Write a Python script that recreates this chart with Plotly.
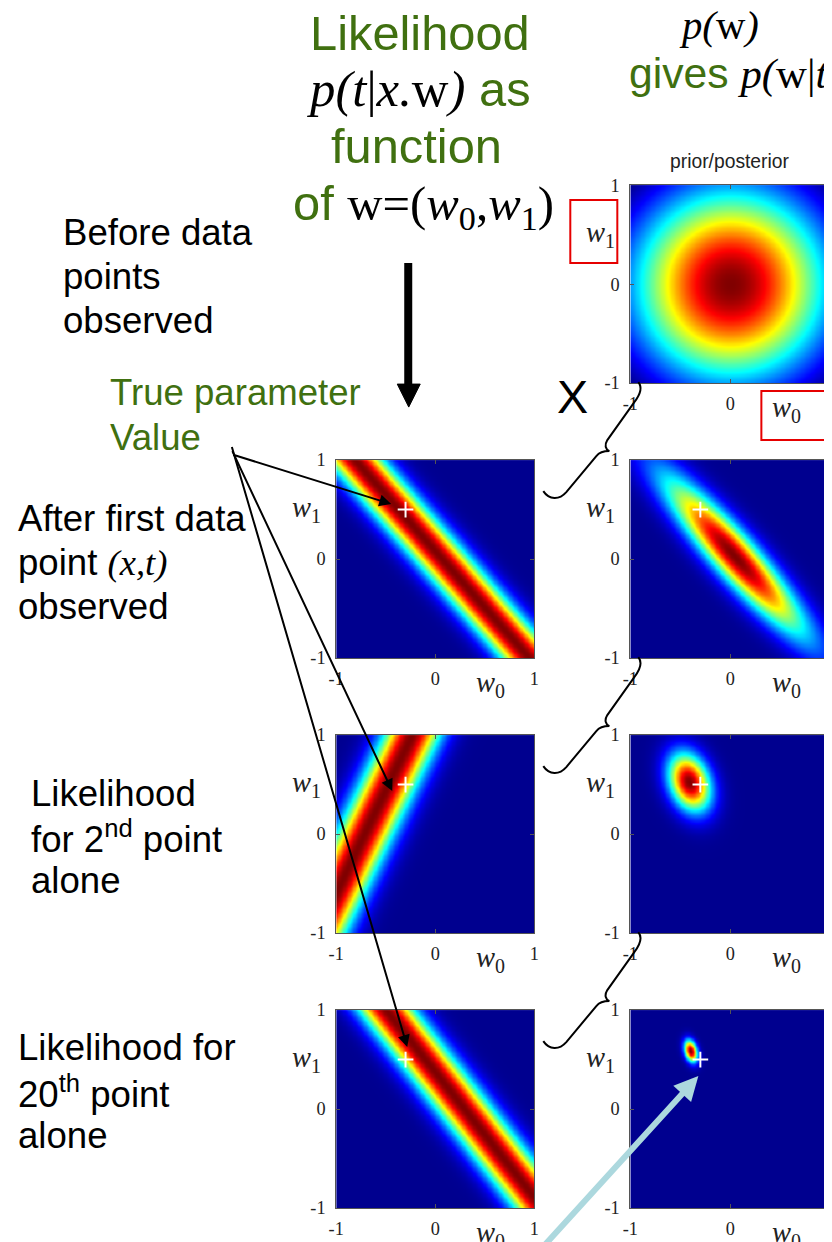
import numpy as np
import plotly.graph_objects as go

# Picture coordinates P (reference pixels) map to figure pixels through the
# page margin and the capture scale observed in earlier runs: P = K*fig + B.
K, B = 0.984, 14.9
W, H = 831, 1248

# ---- values ----
true_w = [-0.3, 0.5]            # true parameter (w0, w1), white "+"
prior_alpha = 2.0               # prior precision
noise_beta = 25.0               # noise precision
obs_x = [0.88, -0.48, 0.79]     # x of data point 1, 2 and 20
obs_t = [0.07, -0.72, 0.295]    # t of data point 1, 2 and 20
post20_mean = [-0.40, 0.59]     # posterior after 20 points
post20_std = [0.045, 0.075]
post20_corr = -0.3
tick_vals = [-1, 0, 1]
tick_text = ["-1", "0", "1"]
grid_n = 161

GREEN = "rgb(64,112,16)"
SANS = "Liberation Sans"
SERIF = "Liberation Serif"

jet = [[0.0, "rgb(0,0,143)"], [0.111, "rgb(0,0,255)"], [0.365, "rgb(0,255,255)"],
       [0.619, "rgb(255,255,0)"], [0.873, "rgb(255,0,0)"], [1.0, "rgb(128,0,0)"]]

g = np.linspace(-1, 1, grid_n)
W0, W1 = np.meshgrid(g, g)
prior = np.exp(-0.5 * prior_alpha * (W0 ** 2 + W1 ** 2))
liks = [np.exp(-0.5 * noise_beta * (t - W0 - W1 * x) ** 2) for x, t in zip(obs_x, obs_t)]
post1 = prior * liks[0]
post2 = post1 * liks[1]
d0 = (W0 - post20_mean[0]) / post20_std[0]
d1 = (W1 - post20_mean[1]) / post20_std[1]
post20 = np.exp(-(d0 ** 2 - 2 * post20_corr * d0 * d1 + d1 ** 2) / (2 * (1 - post20_corr ** 2)))

# panels: z, (left, right) px, top px, show "+"
PH = 198
LEFT_COL = (335, 533)
RIGHT_COL = (629, 829)
panels = [
    (prior, RIGHT_COL, 182, False),
    (liks[0], LEFT_COL, 457, True),
    (post1, RIGHT_COL, 457, True),
    (liks[1], LEFT_COL, 732, True),
    (post2, RIGHT_COL, 732, True),
    (liks[2], LEFT_COL, 1007, True),
    (post20, RIGHT_COL, 1007, True),
]


def F(p):
    return (p - B) / K


def px(x):
    return max(F(x), 0.0) / W


def py(y):
    return 1 - F(y) / H


def fs(s):
    return round(s / K, 1)


fig = go.Figure()
layout = {}
annotations = []
shapes = []

for i, (z, (left, right), top, plus) in enumerate(panels, start=1):
    sx = "" if i == 1 else str(i)
    pw = right - left
    fig.add_trace(go.Heatmap(x=g, y=g, z=z, colorscale=jet, showscale=False,
                             zsmooth="best", xaxis="x" + sx, yaxis="y" + sx,
                             hoverinfo="skip"))
    if plus:
        fig.add_trace(go.Scatter(x=[true_w[0]], y=[true_w[1]], mode="markers",
                                 marker=dict(symbol="cross-thin", size=fs(11),
                                             line=dict(color="white", width=2)),
                                 xaxis="x" + sx, yaxis="y" + sx, showlegend=False,
                                 hoverinfo="skip"))
    common = dict(range=[-1, 1], tickvals=tick_vals, ticktext=tick_text,
                  tickfont=dict(family=SERIF, size=fs(18), color="#222"),
                  showgrid=False, zeroline=False, showline=True, mirror="ticks",
                  linecolor="#555", linewidth=1, ticks="inside", ticklen=4,
                  tickcolor="#555", fixedrange=True)
    layout["xaxis" + sx] = dict(domain=[px(left), min(px(right), 1.0)], anchor="y" + sx,
                                ticklabelstandoff=4, **common)
    layout["yaxis" + sx] = dict(domain=[py(top + PH), py(top)], anchor="x" + sx,
                                ticklabelstandoff=6, **common)
    # axis labels
    annotations.append(dict(text="<i>w</i><sub>1</sub>", xref="x" + sx + " domain",
                            yref="y" + sx, x=-30 / pw, y=0.5, xanchor="center",
                            yanchor="middle", showarrow=False,
                            font=dict(family=SERIF, size=fs(28), color="#222")))
    annotations.append(dict(text="<i>w</i><sub>0</sub>", xref="x" + sx,
                            yref="y" + sx + " domain", x=0.56, y=-26 / PH,
                            xanchor="center", yanchor="middle", showarrow=False,
                            font=dict(family=SERIF, size=fs(28), color="#222")))

annotations.append(dict(text="prior/posterior", xref="x domain", yref="paper",
                        x=0.5, y=py(158), xanchor="center", yanchor="middle",
                        showarrow=False, font=dict(family=SANS, size=fs(19), color="#222")))


def txt(text, x, y, size, color="black", family=SANS, anchor="left"):
    annotations.append(dict(text=text, xref="paper", yref="paper", x=px(x), y=py(y),
                            xanchor=anchor, yanchor="middle", showarrow=False,
                            font=dict(family=family, size=fs(size), color=color)))


def serif(s, size):
    return '<span style="font-family:%s;color:black;font-size:%.1fpx">%s</span>' % (
        SERIF, fs(size), s)


# title column
txt("Likelihood", 419, 30, 48, GREEN, anchor="center")
txt(serif("<i>p(t</i>|<i>x.</i>w<i>)</i>", 50) + " as", 418, 86, 48, GREEN, anchor="center")
txt("function", 415, 143, 48, GREEN, anchor="center")
txt("of " + serif("w=(<i>w</i><sub>0</sub>,<i>w</i><sub>1</sub>)", 48), 422, 203, 48,
    GREEN, anchor="center")
txt(serif("<i>p(</i>w<i>)</i>", 40), 718, 22, 40, "black", SERIF, anchor="center")
txt("gives " + serif("<i>p(</i>w|<i>t)</i>", 42), 626, 70, 42, GREEN)

# left column texts
for s, y in [("Before data", 229), ("points", 273), ("observed", 317)]:
    txt(s, 60, y, 36)
for s, y in [("True parameter", 389), ("Value", 434)]:
    txt(s, 107, y, 36, GREEN)
for s, y in [("After first data", 515),
             ("point " + '<span style="font-family:%s"><i>(x,t)</i></span>' % SERIF, 559),
             ("observed", 603)]:
    txt(s, 12, y, 36)
for s, y in [("Likelihood", 790), ("for 2<sup>nd</sup> point", 834), ("alone", 877)]:
    txt(s, 28, y, 36)
for s, y in [("Likelihood for", 1044), ("20<sup>th</sup> point", 1089), ("alone", 1132)]:
    txt(s, 13, y, 36)
txt("X", 571, 394, 46, anchor="center")


def arrow(x0, y0, x1, y1, color="black", width=2, size=1.2):
    annotations.append(dict(text="", xref="paper", yref="paper", x=px(x1), y=py(y1),
                            axref="pixel", ayref="pixel", ax=(x0 - x1) / K,
                            ay=(y0 - y1) / K, showarrow=True, arrowhead=2,
                            arrowsize=size, arrowwidth=width, arrowcolor=color,
                            standoff=0))


arrow(233, 452, 390, 501)
arrow(233, 452, 391, 788)
arrow(233, 452, 406, 1044)
arrow(536, 1262, 697, 1073, color="rgb(172,216,222)", width=6, size=0.8)


def path(cmds):
    out = []
    for cmd, pts in cmds:
        out.append(cmd + " " + " ".join("%.5f,%.5f" % (px(a), py(b)) for a, b in pts))
    return " ".join(out)


# thick down arrow
shapes.append(dict(type="rect", xref="paper", yref="paper", x0=px(403), x1=px(411),
                   y0=py(383), y1=py(260), fillcolor="black", line=dict(width=0)))
shapes.append(dict(type="path", xref="paper", yref="paper",
                   path=path([("M", [(396, 381)]), ("L", [(419, 381)]),
                              ("L", [(407.5, 404)])]) + " Z",
                   fillcolor="black", line=dict(color="black", width=1)))

# braces
for dy in [0, 275, 550]:
    p = path([
        ("M", [(542, 488 + dy)]),
        ("C", [(548, 497 + dy), (558, 497 + dy), (565, 489 + dy)]),
        ("L", [(595, 453 + dy)]),
        ("C", [(599, 448 + dy), (604, 448 + dy), (608, 448 + dy)]),
        ("C", [(604, 446 + dy), (603, 442 + dy), (606, 437 + dy)]),
        ("L", [(633, 399 + dy)]),
        ("C", [(640, 390 + dy), (641, 384 + dy), (637, 379 + dy)]),
    ])
    shapes.append(dict(type="path", xref="paper", yref="paper", path=p,
                       line=dict(color="black", width=2)))

# red boxes
for x0, y0, x1, y1 in [(569, 197, 616, 260), (760, 388, 825, 437)]:
    shapes.append(dict(type="rect", xref="paper", yref="paper", x0=px(x0), x1=px(x1),
                       y0=py(y1), y1=py(y0), line=dict(color="rgb(230,0,0)", width=2)))

fig.update_layout(width=W, height=H, margin=dict(l=0, r=0, t=0, b=0),
                  paper_bgcolor="white", plot_bgcolor="white", showlegend=False,
                  annotations=annotations, shapes=shapes, **layout)
fig.write_html("out.html")
